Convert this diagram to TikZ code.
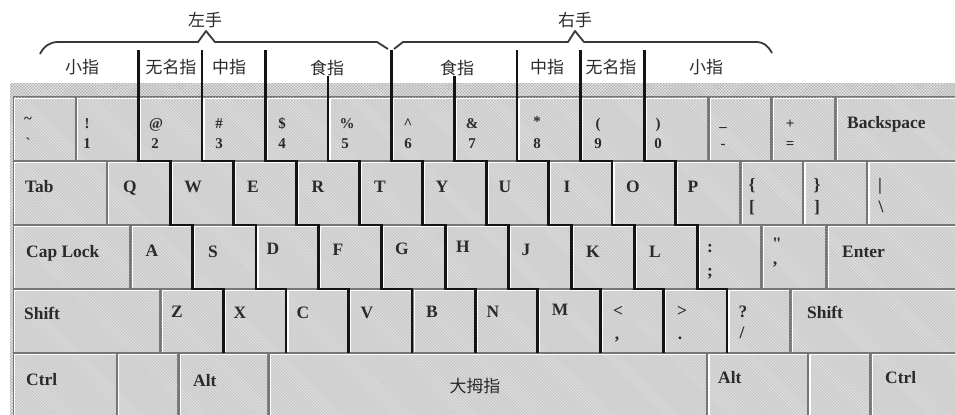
\documentclass[tikz,border=0pt]{standalone}
\usepackage{fontspec}
\setmainfont{Liberation Serif}
\newfontfamily\cjk{Noto Sans CJK SC}
\usetikzlibrary{patterns}
\definecolor{framec}{RGB}{176,176,176}
\definecolor{gapc}{RGB}{118,118,118}
\definecolor{keyfill}{RGB}{202,202,202}
\definecolor{ink}{RGB}{42,42,42}
\newcommand\kkey[4]{%
  \fill[keyfill] (#1,#2) rectangle (#3,#4);
  \fill[pattern=north west lines, pattern color=black!9] (#1,#2) rectangle (#3,#4);
  \draw[white, line width=1.2pt] (#1+0.6,#4) -- (#1+0.6,#2+0.6) -- (#3,#2+0.6);
}
\tikzset{
  kl/.style={font=\fontsize{17.5}{18}\selectfont\bfseries, text=ink, inner sep=0pt, anchor=base},
  kw/.style={kl, anchor=base west},
  ks/.style={font=\fontsize{15}{15}\selectfont\bfseries, text=ink, inner sep=0pt, anchor=base},
  cj/.style={font=\cjk\fontsize{17}{17}\selectfont, text=ink, inner sep=0pt},
  fline/.style={line width=2.6pt, draw=black!92, line join=miter},
  bracel/.style={line width=1.8pt, draw=black!78, line join=round},
}
\begin{document}
\begin{tikzpicture}[x=1bp,y=-1bp]
\useasboundingbox (0,0) rectangle (955,414);
\clip (0,0) rectangle (955,414);
\fill[white] (0,0) rectangle (955,414);
% keyboard frame
\fill[framec] (10,83) rectangle (960,420);
\fill[pattern=crosshatch, pattern color=black!8] (10,83) rectangle (960,420);
\fill[gapc] (12.5,95.5) rectangle (960,420);
% row 1
\foreach \a/\b in {14/74.6, 77.3/137.3, 140/200.6, 203.3/264, 266.7/326.6, 329.3/390, 392.7/453.3, 456/515.6, 518.3/579.3, 582/643.3, 646/707.3, 710/770, 772.7/834, 836.7/960}
  {\kkey{\a}{97.5}{\b}{159.5}}
% row 2
\foreach \a/\b in {14/105.6, 108.3/169, 171.7/232.3, 235/295, 297.7/358, 360.7/421.3, 424/485, 487.7/547.3, 550/610.6, 613.3/674, 676.7/739, 741.7/801.6, 804.3/865.6, 868.3/960}
  {\kkey{\a}{162}{\b}{223.5}}
% row 3
\foreach \a/\b in {14/129, 131.7/191.3, 194/254.6, 257.3/317.3, 320/380, 382.7/444, 446.7/507.3, 510/570, 572.7/633.3, 636/696.3, 699/760, 762.7/825, 827.7/960}
  {\kkey{\a}{226}{\b}{287.5}}
% row 4
\foreach \a/\b in {14/159, 161.7/222, 224.7/284.6, 287.3/347.3, 350/410.8, 413.5/474.3, 477/536.3, 539/599, 601.7/662.3, 665/725.6, 728.3/789, 791.7/960}
  {\kkey{\a}{290}{\b}{351.5}}
% row 5
\foreach \a/\b in {14/115.6, 118.3/177.3, 180/267.3, 270/705.6, 708.3/806.6, 809.3/869, 871.7/960}
  {\kkey{\a}{354}{\b}{420}}
% finger lines
\foreach \ya/\xa/\xb/\xc/\xd in {50/138.65/170.35/192.65/223.35, 50/201.95/233.65/255.95/285.95, 50/265.35/296.35/318.65/348.65, 76/327.95/359.35/381.35/412.15, 50/391.35/422.65/445.35/475.65, 76/454.65/486.35/508.65/537.65, 50/516.95/548.65/571.35/600.35, 50/580.65/611.95/634.65/663.65, 50/644.65/675.35/697.65/726.95}
  {\draw[fline] (\xa,\ya) |- (\xb,160.8) |- (\xc,224.8) |- (\xd,288.8) -- (\xd,353);}
% braces
\draw[bracel] (40,54) .. controls (44,46) and (50,42) .. (58,42) -- (198,42) -- (206,31) -- (215,42) -- (377,42) -- (388,49);
\draw[bracel] (394,49) -- (403,42) -- (568,42) -- (575,31) -- (584,42) -- (756,42) .. controls (764,42) and (768,46) .. (772,53);
% hand and finger labels
\node[cj] (lh) at (205,20) {左手};
\node[cj] (rh) at (575,20) {右手};
\node[cj] (f1) at (82,67.5) {小指};
\node[cj] (f2) at (171,67.5) {无名指};
\node[cj] (f3) at (229,67.5) {中指};
\node[cj] (f4) at (327,67.5) {食指};
\node[cj] (f5) at (457,67.5) {食指};
\node[cj] (f6) at (547,67.5) {中指};
\node[cj] (f7) at (611,67.5) {无名指};
\node[cj] (f8) at (706,67.5) {小指};
% row 1 labels
\node[ks] (s1) at (28,123) {\textasciitilde};
\node[ks] (d1) at (28,148.5) {\textasciigrave};
\node[ks] (s2) at (87,128) {!};
\node[ks] (d2) at (87,148.5) {1};
\node[ks] (s3) at (156,128) {@};
\node[ks] (d3) at (155,148.5) {2};
\node[ks] (s4) at (219,128) {\#};
\node[ks] (d4) at (219,148.5) {3};
\node[ks] (s5) at (282,128) {\$};
\node[ks] (d5) at (282,148.5) {4};
\node[ks] (s6) at (347,128) {\%};
\node[ks] (d6) at (345,148.5) {5};
\node[ks] (s7) at (408,128) {\textasciicircum};
\node[ks] (d7) at (408,148.5) {6};
\node[ks] (s8) at (472,128) {\&};
\node[ks] (d8) at (472,148.5) {7};
\node[ks] (s9) at (537,126) {*};
\node[ks] (d9) at (537,148.5) {8};
\node[ks] (s10) at (598,128) {(};
\node[ks] (d10) at (598,148.5) {9};
\node[ks] (s11) at (658,128) {)};
\node[ks] (d11) at (658,148.5) {0};
\node[ks] (s12) at (723,126) {\_};
\node[ks] (d12) at (723,148.5) {-};
\node[ks] (s13) at (790,128) {+};
\node[ks] (d13) at (790,148.5) {=};
\node[kw] (bks) at (847,128) {Backspace};
% row 2 labels
\node[kw] (tab) at (25,192) {Tab};
\node[kl] (kq) at (130,192) {Q};
\node[kl] (kw) at (193,192) {W};
\node[kl] (ke) at (253,192) {E};
\node[kl] (kr) at (318,192) {R};
\node[kl] (kt) at (380,192) {T};
\node[kl] (ky) at (442,192) {Y};
\node[kl] (ku) at (505,192) {U};
\node[kl] (ki) at (567,192) {I};
\node[kl] (ko) at (633,192) {O};
\node[kl] (kp) at (693,192) {P};
\node[kl] (lb1) at (752,190) {\{};
\node[kl] (lb2) at (752,212) {[};
\node[kl] (rb1) at (817,190) {\}};
\node[kl] (rb2) at (817,212) {]};
\node[kl] (bar1) at (880,190) {|};
\node[kl] (bar2) at (881,212) {\textbackslash};
% row 3 labels
\node[kw] (caps) at (26,257) {Cap Lock};
\node[kl] (ka) at (152,256) {A};
\node[kl] (ks) at (213,257) {S};
\node[kl] (kd) at (273,254) {D};
\node[kl] (kf) at (338,255) {F};
\node[kl] (kg) at (402,254) {G};
\node[kl] (kh) at (463,252) {H};
\node[kl] (kj) at (526,255) {J};
\node[kl] (kk) at (593,257) {K};
\node[kl] (kl) at (655,257) {L};
\node[kl] (col) at (710,252) {:};
\node[kl] (sem) at (710,276) {;};
\node[kl] (quo) at (777,249) {\textquotedbl};
\node[kl] (apo) at (775,273) {'};
\node[kw] (ent) at (842,257) {Enter};
% row 4 labels
\node[kw] (shl) at (24,319) {Shift};
\node[kl] (kz) at (177,317) {Z};
\node[kl] (kx) at (240,318) {X};
\node[kl] (kc) at (303,318) {C};
\node[kl] (kv) at (367,318) {V};
\node[kl] (kb) at (432,317) {B};
\node[kl] (kn) at (493,317) {N};
\node[kl] (km) at (560,315) {M};
\node[kl] (lt) at (618,316) {<};
\node[kl] (cma) at (617,339) {,};
\node[kl] (gt) at (682,316) {>};
\node[kl] (dot) at (680,339) {.};
\node[kl] (qm) at (743,317) {?};
\node[kl] (sl) at (742,338) {/};
\node[kw] (shr) at (807,318) {Shift};
% row 5 labels
\node[kw] (ctl) at (26,385) {Ctrl};
\node[kw] (altl) at (193,386) {Alt};
\node[cj] (thumb) at (475,386) {大拇指};
\node[kw] (altr) at (718,383) {Alt};
\node[kw] (ctr) at (885,383) {Ctrl};
\end{tikzpicture}
\end{document}
